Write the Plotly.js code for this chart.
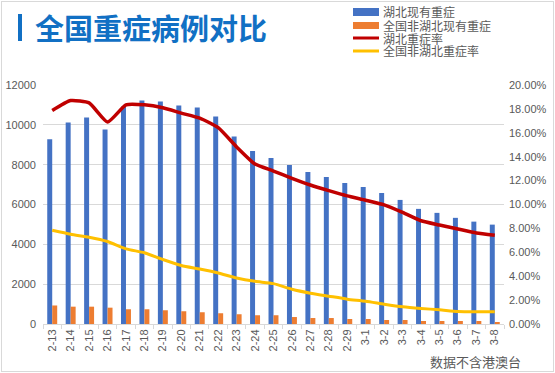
<!DOCTYPE html>
<html>
<head>
<meta charset="utf-8">
<script src="https://cdn.plot.ly/plotly-3.0.1.min.js"></script>
<style>
html,body{margin:0;padding:0;background:#fff;}
#wrap{position:relative;width:555px;height:373px;}
#chart{width:555px;height:373px;}
#frame{position:absolute;left:1px;top:1px;width:551px;height:369px;border:1px solid #d9d9d9;pointer-events:none;}
</style>
</head>
<body>
<div id="wrap"><div id="chart"></div><div id="frame"></div></div>
<script>
// ---- data ----
const categories = ["2-13","2-14","2-15","2-16","2-17","2-18","2-19","2-20","2-21","2-22","2-23","2-24","2-25","2-26","2-27","2-28","2-29","3-1","3-2","3-3","3-4","3-5","3-6","3-7","3-8"];
const hubeiSevere = [9270,10120,10370,9770,10920,11220,11170,10970,10870,10420,9420,8680,8330,7980,7630,7380,7080,6880,6580,6230,5780,5580,5330,5140,4990];
const nonHubeiSevere = [930,870,870,820,740,740,690,640,590,540,490,440,440,350,300,300,250,250,200,200,150,150,150,150,100];
const hubeiRate = [0.1787,0.1870,0.1850,0.1690,0.1834,0.1834,0.1809,0.1765,0.1723,0.1643,0.1482,0.1338,0.1280,0.1219,0.1163,0.1116,0.1072,0.1036,0.0997,0.0934,0.0864,0.0828,0.0795,0.0762,0.0742];
const nonHubeiRate = [0.0784,0.0751,0.0726,0.0690,0.0629,0.0596,0.0540,0.0490,0.0460,0.0427,0.0385,0.0357,0.0338,0.0291,0.0258,0.0233,0.0208,0.0191,0.0166,0.0144,0.0130,0.0119,0.0105,0.0102,0.0102];
const seriesNames = ["湖北现有重症","全国非湖北现有重症","湖北重症率","全国非湖北重症率"];
const leftTicks = [0,2000,4000,6000,8000,10000,12000];
const rightTicks = [0,0.02,0.04,0.06,0.08,0.10,0.12,0.14,0.16,0.18,0.20];
const titleText = "全国重症病例对比";
const noteText = "数据不含港澳台";

// ---- styling ----
const colors = ["#4472C4","#ED7D31","#C00000","#FFC000"];
const gray = "#595959";
const titleBlue = "#1170C4";
const FONT = "Liberation Sans, Arial, Noto Sans CJK SC, sans-serif";
const CJK = "Noto Sans CJK SC, Liberation Sans, sans-serif";

const M = {l:43, r:51, t:85, b:49};
const W = 555, H = 373;
const pw = W - M.l - M.r, ph = H - M.t - M.b;
const X = px => (px - M.l) / pw;
const Y = py => (H - M.b - py) / ph;

const traces = [
  {type:'bar', name:seriesNames[0], x:categories, y:hubeiSevere, marker:{color:colors[0]}, showlegend:false},
  {type:'bar', name:seriesNames[1], x:categories, y:nonHubeiSevere, marker:{color:colors[1]}, showlegend:false},
  {type:'scatter', mode:'lines', name:seriesNames[2], x:categories, y:hubeiRate, yaxis:'y2',
   line:{color:colors[2], width:3.5, shape:'spline', smoothing:0.5}, showlegend:false},
  {type:'scatter', mode:'lines', name:seriesNames[3], x:categories, y:nonHubeiRate, yaxis:'y2',
   line:{color:colors[3], width:3, shape:'spline', smoothing:0.6}, showlegend:false}
];

const shapes = [
  {type:'rect', xref:'paper', yref:'paper', x0:X(18), x1:X(22), y0:Y(41), y1:Y(14), fillcolor:titleBlue, line:{width:0}},
  {type:'rect', xref:'paper', yref:'paper', x0:X(353), x1:X(379), y0:Y(16), y1:Y(8), fillcolor:colors[0], line:{width:0}},
  {type:'rect', xref:'paper', yref:'paper', x0:X(353), x1:X(379), y0:Y(29), y1:Y(22), fillcolor:colors[1], line:{width:0}},
  {type:'line', xref:'paper', yref:'paper', x0:X(353), x1:X(379), y0:Y(38), y1:Y(38), line:{color:colors[2], width:3}},
  {type:'line', xref:'paper', yref:'paper', x0:X(353), x1:X(379), y0:Y(51), y1:Y(51), line:{color:colors[3], width:3}}
];

const legY = [12, 25.5, 38, 51];
const annotations = [
  {xref:'paper', yref:'paper', x:X(33), y:Y(27), xanchor:'left', yanchor:'middle', showarrow:false,
   text:'<b>'+titleText+'</b>', font:{family:CJK, size:29, color:titleBlue}},
  {xref:'paper', yref:'paper', x:X(428), y:Y(361), xanchor:'left', yanchor:'middle', showarrow:false,
   text:noteText, font:{family:CJK, size:13, color:gray}}
].concat(seriesNames.map((n,i)=>({xref:'paper', yref:'paper', x:X(382), y:Y(legY[i]), xanchor:'left', yanchor:'middle',
   showarrow:false, borderpad:0, height:13, text:n, font:{family:CJK, size:12, color:gray}})));

const layout = {
  width:W, height:H,
  margin:M,
  paper_bgcolor:'#fff', plot_bgcolor:'#fff',
  font:{family:FONT, size:11, color:gray},
  showlegend:false,
  barmode:'group', bargap:0.46, bargroupgap:0,
  xaxis:{type:'category', tickangle:-90, showline:true, linecolor:'#d9d9d9', linewidth:1,
         ticks:'outside', tickson:'boundaries', ticklen:4, tickcolor:'#d9d9d9',
         tickfont:{family:FONT, size:11, color:gray}, showgrid:false, fixedrange:true},
  yaxis:{range:[0,12000], tickvals:leftTicks, ticktext:leftTicks.map(String), showgrid:true, gridcolor:'#d9d9d9',
         zeroline:false, showline:false, ticks:'', ticklabelstandoff:6, tickfont:{family:FONT, size:11, color:gray}},
  yaxis2:{range:[0,0.2], overlaying:'y', side:'right', tickvals:rightTicks, tickformat:'.2%', showgrid:false,
          zeroline:false, showline:false, ticks:'', ticklabelstandoff:4, tickfont:{family:FONT, size:11, color:gray}},
  shapes:shapes,
  annotations:annotations
};

Plotly.newPlot('chart', traces, layout, {displayModeBar:false, staticPlot:true});
</script>
</body>
</html>
